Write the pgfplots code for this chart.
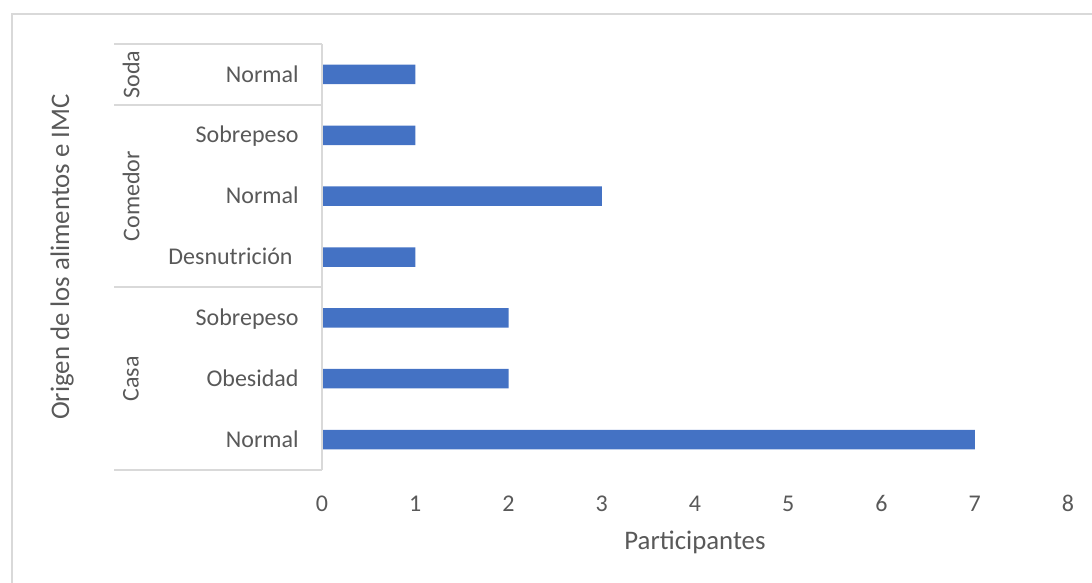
\documentclass[border=0pt]{standalone}
\usepackage{pgfplots}
\pgfplotsset{compat=1.18}
\usepackage{fontspec}
\setmainfont{Carlito}
\definecolor{barblue}{HTML}{4472C4}
\definecolor{txtgray}{HTML}{595959}
\definecolor{linegray}{HTML}{D9D9D9}
\begin{document}
\begin{tikzpicture}[x=1pt,y=1pt]
\useasboundingbox (0,0) rectangle (546,291.5);
\draw[linegray, line width=1pt] (6,0) -- (6,284.5) -- (546,284.5);
\begin{axis}[
  at={(161pt,56.5pt)}, anchor=south west,
  scale only axis, width=373pt, height=213pt,
  xmin=0, xmax=8, ymin=-0.5, ymax=6.5,
  xbar, bar width=9.75pt,
  axis line style={draw=none},
  xtick={0,1,...,8}, ytick={0,1,...,6},
  yticklabels={Normal,Obesidad,Sobrepeso,Desnutrición\kern3pt,Normal,Sobrepeso,Normal},
  major tick length=0pt, tick style={draw=none},
  /pgf/number format/assume math mode=true,
  ticklabel style={text=txtgray, font=\fontsize{12pt}{14pt}\selectfont},
  xticklabel style={anchor=base, yshift=-20.9pt},
  yticklabel style={anchor=base east, inner sep=0pt, xshift=-11.5pt, yshift=-3.85pt},
  xlabel={Participantes},
  xlabel style={at={(axis description cs:0.5,0)}, anchor=base, yshift=-40pt, text=txtgray, font=\fontsize{13.4pt}{15pt}\selectfont},
  clip=false,
]
\addplot[fill=barblue, draw=none] coordinates {(7,0) (2,1) (2,2) (1,3) (3,4) (1,5) (1,6)};
\draw[linegray, line width=1pt] (axis cs:0,-0.5) -- (axis cs:0,6.5);
\draw[linegray, line width=1pt] (axis cs:-2.23,6.5) -- (axis cs:0,6.5);
\draw[linegray, line width=1pt] (axis cs:-2.23,5.5) -- (axis cs:0,5.5);
\draw[linegray, line width=1pt] (axis cs:-2.23,2.5) -- (axis cs:0,2.5);
\draw[linegray, line width=1pt] (axis cs:-2.23,-0.5) -- (axis cs:0,-0.5);
\node[rotate=90, text=txtgray, font=\fontsize{12pt}{14pt}\selectfont] at (axis cs:-2.048,6) {Soda};
\node[rotate=90, text=txtgray, font=\fontsize{12pt}{14pt}\selectfont] at (axis cs:-2.048,4) {Comedor};
\node[rotate=90, text=txtgray, font=\fontsize{12pt}{14pt}\selectfont] at (axis cs:-2.048,1) {Casa};
\end{axis}
\node[rotate=90, text=txtgray, font=\fontsize{13.4pt}{15pt}\selectfont] at (31,163) {Origen de los alimentos e IMC};
\end{tikzpicture}
\end{document}
